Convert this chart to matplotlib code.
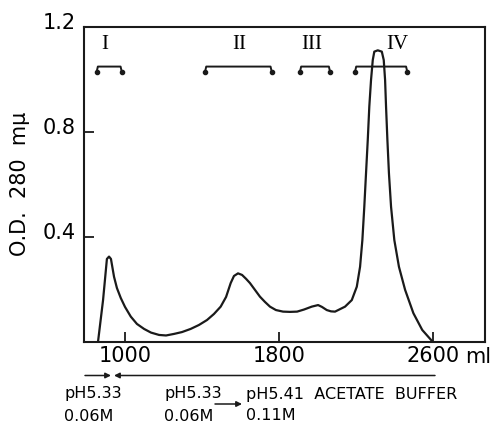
import matplotlib
matplotlib.use("Agg")
import matplotlib.pyplot as plt
from matplotlib.transforms import ScaledTranslation

# ---- data ----
elution_ml = [860, 886, 906, 917, 927, 943, 958, 978, 1000, 1030, 1062, 1099, 1135,
              1177, 1213, 1255, 1296, 1341, 1384, 1426, 1462, 1497, 1525, 1549, 1566,
              1587, 1608, 1629, 1649, 1675, 1701, 1727, 1753, 1784, 1821, 1857, 1894,
              1930, 1970, 2003, 2023, 2048, 2070, 2091, 2143, 2178, 2204, 2221, 2233,
              2243, 2252, 2261, 2269, 2278, 2287, 2295, 2313, 2334, 2344, 2351, 2356,
              2363, 2371, 2382, 2399, 2423, 2455, 2498, 2544, 2597]
od280 = [0.0, 0.158, 0.315, 0.324, 0.315, 0.247, 0.204, 0.166, 0.132, 0.095, 0.067,
         0.048, 0.034, 0.025, 0.023, 0.029, 0.036, 0.048, 0.063, 0.082, 0.105, 0.133,
         0.170, 0.223, 0.250, 0.260, 0.254, 0.239, 0.223, 0.197, 0.171, 0.151, 0.133,
         0.120, 0.114, 0.113, 0.114, 0.122, 0.133, 0.139, 0.132, 0.120, 0.115, 0.114,
         0.133, 0.158, 0.209, 0.285, 0.387, 0.514, 0.642, 0.769, 0.896, 0.998, 1.074,
         1.106, 1.111, 1.106, 1.074, 0.998, 0.896, 0.769, 0.642, 0.514, 0.387, 0.285,
         0.197, 0.108, 0.044, 0.0]

fraction_labels = ["I", "II", "III", "IV"]
fraction_label_x = [896, 1594, 1970, 2412]
bracket_start = [853, 1416, 1909, 2195]
bracket_end = [983, 1762, 2065, 2466]

x_ticks = [1000, 1800, 2600]
x_ticklabels = ["1000", "1800", "2600"]
y_ticks = [0.4, 0.8, 1.2]
y_ticklabels = ["0.4", "0.8", "1.2"]

W, H = 493, 423
fig = plt.figure(figsize=(W / 100, H / 100), dpi=100)
ax = fig.add_axes([84 / W, 1 - 341.5 / H, (485 - 84) / W, (341.5 - 27) / H])

ax.plot(elution_ml, od280, color="#1a1a1a", lw=1.6, solid_joinstyle="round")
ax.set_xlim(787, 2870)
ax.set_ylim(0, 1.2)

for s in ax.spines.values():
    s.set_linewidth(1.5)
    s.set_color("#1a1a1a")

ax.set_xticks(x_ticks)
ax.set_xticklabels(x_ticklabels)
ax.set_yticks(y_ticks)
ax.set_yticklabels(y_ticklabels)
ax.tick_params(direction="in", length=7.5, width=1.3, labelsize=15, color="#1a1a1a")
ax.tick_params(axis="x", pad=3)
ax.tick_params(axis="y", pad=6)
for lab in ax.get_yticklabels():
    lab.set_transform(lab.get_transform() + ScaledTranslation(0, 0.06, fig.dpi_scale_trans))

fig.text(20 / W, 1 - 184 / H, "O.D.  280  mμ", rotation=90, fontsize=15,
         ha="center", va="center")
fig.text(465 / W, 1 - 357 / H, "ml", fontsize=15, ha="left", va="center")

# fraction brackets and numerals
y_line, y_dot, y_num = 1.049, 1.030, 1.134
for lab, xl, x0, x1 in zip(fraction_labels, fraction_label_x, bracket_start, bracket_end):
    d = 6
    ax.plot([x0, x0 + d, x1 - d, x1], [y_dot, y_line, y_line, y_dot],
            color="#1a1a1a", lw=1.4, clip_on=False, solid_capstyle="round")
    ax.plot([x0, x1], [y_dot, y_dot], "o", ms=3, color="#1a1a1a", clip_on=False)
    ax.text(xl, y_num, lab, family="Liberation Serif", fontsize=15,
            ha="center", va="center", clip_on=False)

# buffer annotations below
def fx(px):
    return px / W

def fy(py):
    return 1 - py / H

arrow_kw = dict(arrowstyle="-|>", lw=1.1, color="#1a1a1a", mutation_scale=8,
                shrinkA=0, shrinkB=0)
ax.annotate("", xy=(fx(111), fy(375.5)), xytext=(fx(85), fy(375.5)),
            xycoords="figure fraction", arrowprops=arrow_kw)
ax.annotate("", xy=(fx(114), fy(375.5)), xytext=(fx(435), fy(375.5)),
            xycoords="figure fraction", arrowprops=arrow_kw)
ax.annotate("", xy=(fx(242), fy(404)), xytext=(fx(215), fy(404)),
            xycoords="figure fraction", arrowprops=arrow_kw)

tk = dict(fontsize=11.5, ha="left", va="center")
fig.text(fx(64), fy(393), "pH5.33", **tk)
fig.text(fx(64), fy(416), "0.06M", **tk)
fig.text(fx(164), fy(393), "pH5.33", **tk)
fig.text(fx(164), fy(416), "0.06M", **tk)
fig.text(fx(246), fy(394), "pH5.41  ACETATE  BUFFER", **tk)
fig.text(fx(246), fy(415), "0.11M", **tk)

fig.savefig("out.png", dpi=100)
